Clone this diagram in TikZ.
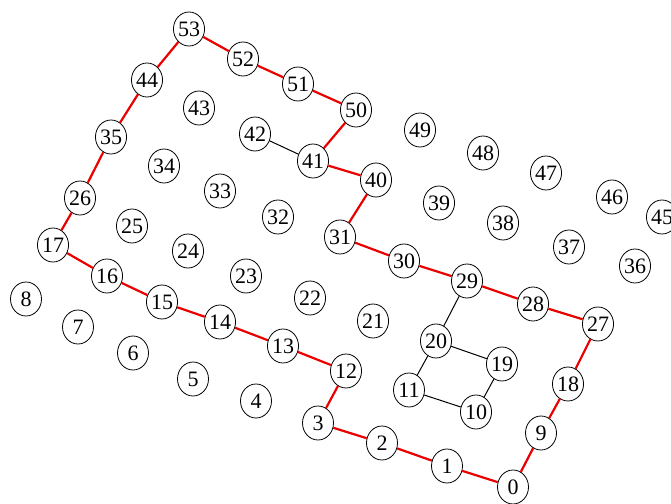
\documentclass[tikz,border=0pt]{standalone}
\usepackage{tikz}
\usepackage{fontspec}
\setmainfont{Liberation Serif}
\usetikzlibrary{shapes.geometric}

\begin{document}
\begin{tikzpicture}[
    x=1pt,y=-1pt,
    vertex/.style={
        ellipse,
        draw=black,
        line width=0.8pt,
        fill=white,
        minimum width=31pt,
        minimum height=34pt,
        inner sep=0pt,
        font=\fontsize{22}{24}\selectfont
    },
    route/.style={line width=2.2pt, draw=red!92!black},
    link/.style={line width=1pt, draw=black}
]

% -----------------------------------------------------------------------------
% Frame
% -----------------------------------------------------------------------------
\useasboundingbox (0,0) rectangle (671,503);
\clip (0,0) rectangle (671,503);

% -----------------------------------------------------------------------------
% Vertices (pixel grid of the drawing)
% -----------------------------------------------------------------------------
\foreach \id/\px/\py in {
    0/513/487, 1/447/466, 2/382/443, 3/318/423, 4/256/401,
    5/193/379, 6/133/353, 7/78/327, 8/26/299,
    9/541/433, 10/476/412, 11/409/390, 12/346/371, 13/283/346,
    14/220/322, 15/162/302, 16/107/276, 17/53/245,
    18/568/384, 19/502/364, 20/436/341, 21/373/321, 22/310/298,
    23/246/276, 24/188/251, 25/132/226, 26/80/198,
    27/598/324, 28/533/304, 29/467/281, 30/404/261, 31/340/237,
    32/278/217, 33/220/191, 34/164/166, 35/111/137,
    36/635/266, 37/569/247, 38/503/223, 39/439/203, 40/376/180,
    41/313/161, 42/255/134, 43/199/108, 44/147/80,
    45/662/217, 46/612/197, 47/546/173, 48/483/153, 49/420/130,
    50/356/110, 51/298/84, 52/243/59, 53/189/29} {
    \node[vertex] (n\id) at (\px,\py) {\id};
}

% -----------------------------------------------------------------------------
% Red tour and black links
% -----------------------------------------------------------------------------
\foreach \a/\b in {0/1, 1/2, 2/3, 3/12, 12/13, 13/14, 14/15, 15/16, 16/17,
    17/26, 26/35, 35/44, 44/53, 53/52, 52/51, 51/50, 50/41, 41/40, 40/31,
    31/30, 30/29, 29/28, 28/27, 27/18, 18/9, 9/0} {
    \draw[route] (n\a) -- (n\b);
}
\foreach \a/\b in {42/41, 29/20, 20/19, 19/10, 10/11, 11/20} {
    \draw[link] (n\a) -- (n\b);
}

\end{tikzpicture}
\end{document}
